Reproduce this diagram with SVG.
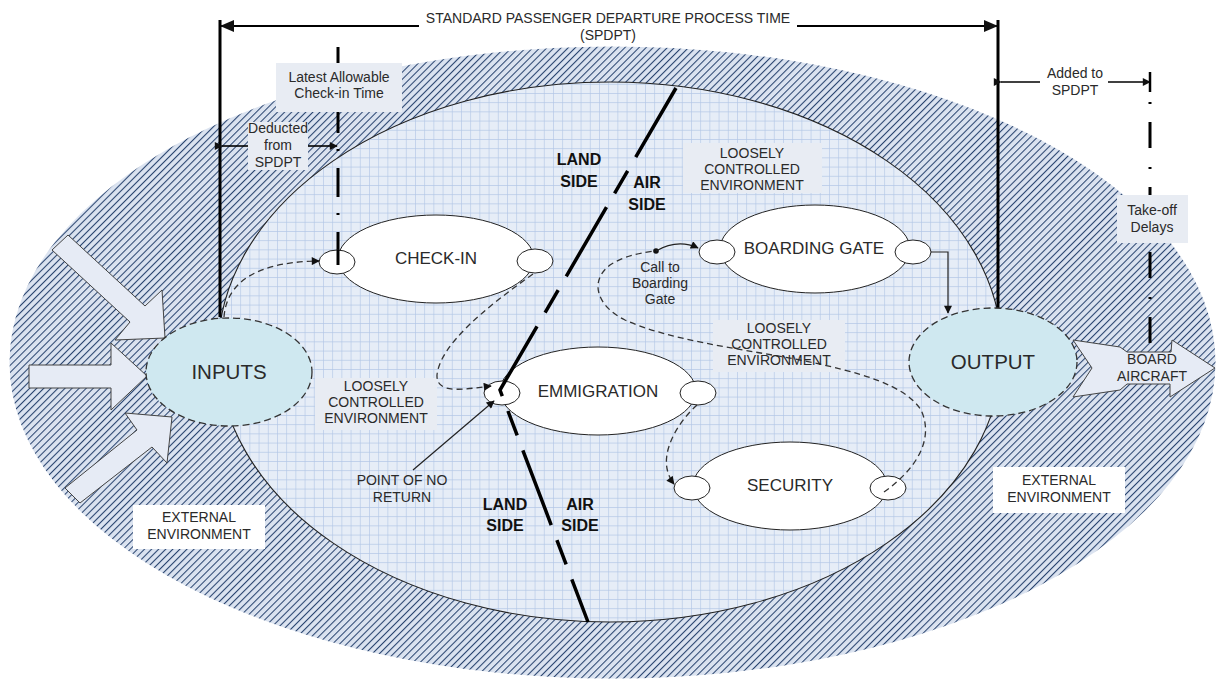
<svg xmlns="http://www.w3.org/2000/svg" width="1219" height="682" viewBox="0 0 1219 682">
<defs>
<pattern id="hatch" width="5" height="5" patternUnits="userSpaceOnUse" patternTransform="rotate(45)">
<rect width="5" height="5" fill="#dbe3f0"/>
<line x1="0" y1="0" x2="0" y2="5" stroke="#2a4570" stroke-width="2.1"/>
</pattern>
<pattern id="grid" width="9.2" height="9.2" patternUnits="userSpaceOnUse" x="1" y="1">
<rect width="9.2" height="9.2" fill="#e6edf7"/>
<path d="M0,0 H9.2 M0,0 V9.2" stroke="#b3c7e6" stroke-width="1.3" fill="none"/>
</pattern>
<marker id="arr" viewBox="0 0 10 10" refX="9" refY="5" markerWidth="10" markerHeight="8" markerUnits="userSpaceOnUse" orient="auto">
<path d="M0,0 L10,5 L0,10 z" fill="#111"/>
</marker>
<marker id="big" viewBox="0 0 14 12" refX="14" refY="6" markerWidth="14" markerHeight="12" markerUnits="userSpaceOnUse" orient="auto-start-reverse">
<path d="M0,0 L14,6 L0,12 z" fill="#111"/>
</marker>
</defs>
<style>
text{font-family:"Liberation Sans",Arial,sans-serif;fill:#2a2a2a;text-anchor:middle}
.sm{font-size:14px}
.nd{font-size:17px}
.io{font-size:20.5px}
.bd{font-size:16px;font-weight:bold;fill:#111}
.node{fill:#fff;stroke:#222;stroke-width:1}
.io-e{fill:#cfe8f0;stroke:#333;stroke-width:1.3;stroke-dasharray:7 4}
.dash{fill:none;stroke:#333;stroke-width:1.3;stroke-dasharray:6 4}
.solid{fill:none;stroke:#222;stroke-width:1.2}
.lbl{fill:#e8ecf3}
.wht{fill:#fff}
.blk{fill:#e6ebf5;stroke:#444;stroke-width:1}
.ls{fill:none;stroke:#000;stroke-width:3.5;stroke-dasharray:80 16 26 16}
.dd{fill:none;stroke:#000;stroke-width:3}
</style>

<g id="background">
<ellipse cx="612.5" cy="362.5" rx="603" ry="316" fill="url(#hatch)"/>
<ellipse cx="610" cy="352" rx="392" ry="270" fill="url(#grid)" stroke="#222" stroke-width="1.1"/>
</g>

<g id="input-arrows">
<polygon class="blk" points="68,235 145,306 162,290 165,338 115,340 130,322 52,250"/>
<polygon class="blk" points="29,365 111,365 111,343 147,376 111,410 111,388 29,388"/>
<polygon class="blk" points="65,488 137,430 125,413 172,417 167,463 152,447 80,503"/>
</g>

<g id="board-aircraft-arrow">
<polygon class="blk" points="1073,340 1120,347 1127,352 1171,352 1172,340 1215,368 1170,397 1170,384 1127,384 1120,390 1073,397 1092,368"/>
</g>

<g id="dimension-lines">
<line class="dd" x1="220" y1="20" x2="220" y2="317" stroke-width="2.6"/>
<line class="dd" x1="998" y1="20" x2="998" y2="308" stroke-width="2.6"/>
<line x1="220" y1="26" x2="419" y2="26" stroke="#000" stroke-width="2" marker-start="url(#big)"/>
<line x1="797" y1="26" x2="998" y2="26" stroke="#000" stroke-width="2" marker-end="url(#big)"/>
<line x1="222" y1="146" x2="250" y2="146" stroke="#000" stroke-width="1.6" marker-start="url(#arr)"/>
<line x1="306" y1="146" x2="337" y2="146" stroke="#000" stroke-width="1.6" marker-end="url(#arr)"/>
<line x1="1001" y1="82" x2="1040" y2="82" stroke="#000" stroke-width="1.6" marker-start="url(#arr)"/>
<line x1="1108" y1="82" x2="1150" y2="82" stroke="#000" stroke-width="1.6" marker-end="url(#arr)"/>
<line x1="1150" y1="72" x2="1150" y2="92" stroke="#000" stroke-width="2.5"/>
<line class="dd" x1="338" y1="47" x2="338" y2="265" stroke-dasharray="29 16 2 17" stroke-dashoffset="7"/>
<line class="dd" x1="1150" y1="92" x2="1150" y2="345" stroke-dasharray="26 19 2 18" stroke-dashoffset="35"/>
</g>

<g id="labels-boxes">
<rect class="lbl" x="276" y="63" width="126" height="49"/>
<rect class="lbl" x="248" y="122" width="60" height="48"/>
<rect class="lbl" x="683" y="143" width="139" height="50"/>
<rect class="lbl" x="315" y="378" width="122" height="52"/>
<rect class="lbl" x="713" y="320" width="132" height="52"/>
<rect class="lbl" x="1117" y="195" width="71" height="48"/>
<rect class="wht" x="133" y="505" width="132" height="44"/>
<rect class="wht" x="993" y="467" width="132" height="46"/>
</g>

<g id="inputs"><ellipse class="io-e" cx="229" cy="372" rx="83" ry="54"/><text class="io" x="229" y="379">INPUTS</text></g>
<g id="output"><ellipse class="io-e" cx="993" cy="362" rx="84" ry="54"/><text class="io" x="993" y="369">OUTPUT</text></g>

<g id="check-in">
<ellipse class="node" cx="436" cy="259" rx="98" ry="44"/>
<ellipse class="node" cx="337" cy="262" rx="18" ry="12"/>
<ellipse class="node" cx="535" cy="261" rx="18" ry="12"/>
<text class="nd" x="436" y="264">CHECK-IN</text>
</g>
<g id="emmigration">
<ellipse class="node" cx="598" cy="391" rx="98" ry="44"/>
<ellipse class="node" cx="502" cy="393" rx="18" ry="12"/>
<ellipse class="node" cx="698" cy="393" rx="18" ry="12"/>
<text class="nd" x="598" y="397">EMMIGRATION</text>
</g>
<g id="boarding-gate">
<ellipse class="node" cx="815" cy="249" rx="95" ry="44"/>
<ellipse class="node" cx="717" cy="252" rx="18" ry="12"/>
<ellipse class="node" cx="913" cy="252" rx="18" ry="12"/>
<text class="nd" x="814" y="254">BOARDING GATE</text>
</g>
<g id="security">
<ellipse class="node" cx="790" cy="486" rx="97" ry="44"/>
<ellipse class="node" cx="692" cy="488" rx="18" ry="12"/>
<ellipse class="node" cx="888" cy="488" rx="18" ry="12"/>
<text class="nd" x="790" y="491">SECURITY</text>
</g>

<g id="connectors">
<line class="dd" x1="338" y1="250" x2="338" y2="265"/>
<path class="dash" d="M224,317 C226,290 245,262 319,261" marker-end="url(#arr)"/>
<path class="dash" d="M533,274 C485,308 440,345 437,375 C436,395 465,389 491,386" marker-end="url(#arr)"/>
<path class="dash" d="M697,405 C675,425 655,460 674,484" marker-end="url(#arr)"/>
<path class="dash" d="M884,492 C915,470 935,440 921,410 C905,385 860,372 800,360 C730,347 670,340 625,320 C595,305 590,280 610,265 C625,255 645,252 656,251"/>
<circle cx="656" cy="251" r="2.8" fill="#111"/>
<path class="solid" d="M656,251 C670,243 685,242 698,248" marker-end="url(#arr)"/>
<path class="solid" d="M931,252 H948 V313" marker-end="url(#arr)"/>
<path class="solid" d="M413,470 L494,401" marker-end="url(#arr)"/>
<path class="ls" d="M676,88 L500,390 L588,622"/>
</g>

<g id="texts">
<text x="608" y="23" font-size="14">STANDARD PASSENGER DEPARTURE PROCESS TIME</text>
<text x="608" y="40" font-size="14">(SPDPT)</text>
<text class="sm" x="339" y="82">Latest Allowable</text>
<text class="sm" x="339" y="98">Check-in Time</text>
<text class="sm" x="278" y="133">Deducted</text>
<text class="sm" x="278" y="150">from</text>
<text class="sm" x="278" y="167">SPDPT</text>
<text class="sm" x="1075" y="78">Added to</text>
<text class="sm" x="1075" y="95">SPDPT</text>
<text class="sm" x="1152" y="215">Take-off</text>
<text class="sm" x="1152" y="232">Delays</text>
<text class="sm" x="752" y="158">LOOSELY</text>
<text class="sm" x="752" y="174">CONTROLLED</text>
<text class="sm" x="752" y="190">ENVIRONMENT</text>
<text class="sm" x="376" y="391">LOOSELY</text>
<text class="sm" x="376" y="407">CONTROLLED</text>
<text class="sm" x="376" y="423">ENVIRONMENT</text>
<text class="sm" x="779" y="333">LOOSELY</text>
<text class="sm" x="779" y="349">CONTROLLED</text>
<text class="sm" x="779" y="365">ENVIRONMENT</text>
<text class="sm" x="660" y="272">Call to</text>
<text class="sm" x="660" y="288">Boarding</text>
<text class="sm" x="660" y="304">Gate</text>
<text class="sm" x="402" y="485">POINT OF NO</text>
<text class="sm" x="402" y="502">RETURN</text>
<text class="sm" x="1152" y="364">BOARD</text>
<text class="sm" x="1152" y="381">AIRCRAFT</text>
<text class="sm" x="199" y="522">EXTERNAL</text>
<text class="sm" x="199" y="539">ENVIRONMENT</text>
<text class="sm" x="1059" y="485">EXTERNAL</text>
<text class="sm" x="1059" y="502">ENVIRONMENT</text>
<text class="bd" x="579" y="165">LAND</text>
<text class="bd" x="579" y="187">SIDE</text>
<text class="bd" x="647" y="188">AIR</text>
<text class="bd" x="647" y="210">SIDE</text>
<text class="bd" x="505" y="510">LAND</text>
<text class="bd" x="505" y="531">SIDE</text>
<text class="bd" x="580" y="510">AIR</text>
<text class="bd" x="580" y="531">SIDE</text>
</g>
</svg>
